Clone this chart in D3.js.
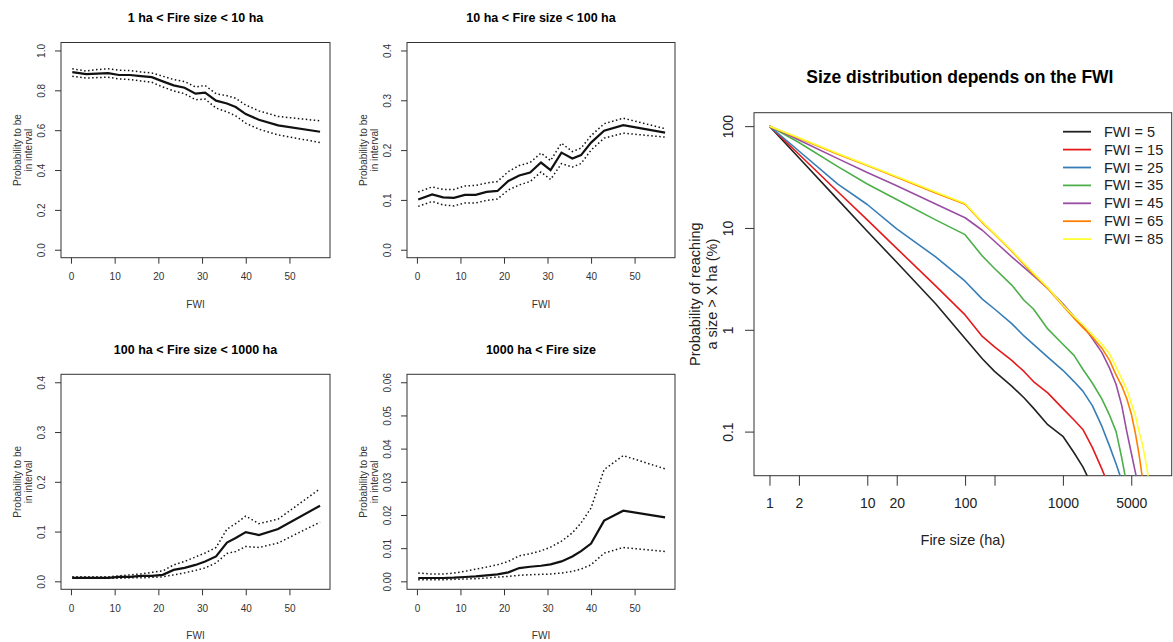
<!DOCTYPE html>
<html><head><meta charset="utf-8">
<script src="https://cdn.jsdelivr.net/npm/d3@7/dist/d3.min.js"></script>
<style>
body{margin:0;background:#fff}
svg{display:block}
text{font-family:"Liberation Sans",Arial,Helvetica,sans-serif}
</style>
</head><body>
<svg id="c" width="1173" height="642"></svg>
<script>
// ---------- DATA ----------
const fwi = [0.3, 3.5, 6, 8.5, 11, 13.5, 16, 18.5, 21, 23.5, 26, 28.5, 30.7, 33.2, 35.7, 37.7, 40, 43, 47.4, 57];
const fwiTicks = [0, 10, 20, 30, 40, 50];

const p1Mean  = [0.891,0.881,0.884,0.886,0.877,0.877,0.871,0.866,0.845,0.825,0.813,0.783,0.788,0.748,0.734,0.716,0.681,0.652,0.624,0.592];
const p1Upper = [0.908,0.897,0.904,0.908,0.901,0.899,0.892,0.887,0.871,0.854,0.844,0.817,0.824,0.783,0.773,0.760,0.726,0.697,0.669,0.647];
const p1Lower = [0.871,0.861,0.864,0.866,0.857,0.854,0.847,0.840,0.817,0.797,0.783,0.753,0.756,0.711,0.692,0.672,0.635,0.605,0.576,0.538];

const p2Mean  = [0.101,0.111,0.105,0.104,0.110,0.110,0.116,0.118,0.138,0.149,0.155,0.175,0.160,0.195,0.183,0.190,0.215,0.239,0.250,0.235];
const p2Upper = [0.116,0.126,0.121,0.121,0.128,0.129,0.134,0.137,0.157,0.169,0.175,0.194,0.179,0.214,0.197,0.204,0.229,0.253,0.264,0.243];
const p2Lower = [0.087,0.097,0.090,0.088,0.094,0.094,0.099,0.102,0.120,0.130,0.137,0.156,0.141,0.173,0.166,0.173,0.200,0.224,0.234,0.226];

const p3Mean  = [0.007,0.007,0.007,0.007,0.009,0.009,0.011,0.011,0.013,0.023,0.027,0.033,0.040,0.050,0.078,0.087,0.099,0.093,0.105,0.152];
const p3Upper = [0.009,0.009,0.009,0.009,0.011,0.013,0.015,0.018,0.021,0.033,0.040,0.049,0.057,0.068,0.105,0.116,0.131,0.116,0.125,0.186];
const p3Lower = [0.006,0.006,0.006,0.006,0.006,0.007,0.007,0.008,0.009,0.013,0.017,0.022,0.027,0.037,0.056,0.060,0.070,0.068,0.077,0.119];

const p4Mean  = [0.0010,0.0010,0.0010,0.0011,0.0013,0.0015,0.0018,0.0021,0.0027,0.0040,0.0044,0.0047,0.0051,0.0060,0.0075,0.0091,0.0114,0.0183,0.0213,0.0193];
const p4Upper = [0.0025,0.0022,0.0022,0.0025,0.0030,0.0037,0.0043,0.0050,0.0060,0.0077,0.0083,0.0092,0.0103,0.0121,0.0146,0.0176,0.0221,0.0337,0.0379,0.0339];
const p4Lower = [0.0005,0.0005,0.0005,0.0006,0.0007,0.0008,0.0010,0.0013,0.0015,0.0018,0.0020,0.0021,0.0022,0.0025,0.0030,0.0037,0.0050,0.0085,0.0102,0.0090];

const fireSizes = [1, 2, 5, 10, 20, 50, 100, 150, 200, 300, 400, 500, 700, 1000, 1300, 1600, 2000, 2500, 3000, 3500, 4000, 4500, 5000, 5500, 6000, 6500, 7000, 7500];
const exceed5  = [100, 49, 19, 9.3, 4.6, 1.8, 0.82, 0.52, 0.39, 0.28, 0.215, 0.17, 0.117, 0.09, 0.062, 0.045, 0.029, null, null, null, null, null, null, null, null, null, null, null];
const exceed15 = [100, 53, 22.7, 12, 6.3, 2.7, 1.4, 0.86, 0.68, 0.5, 0.39, 0.31, 0.24, 0.168, 0.13, 0.105, 0.07, 0.043, 0.028, null, null, null, null, null, null, null, null, null];
const exceed25 = [100, 57, 27, 17, 9.8, 5.2, 3.0, 2.0, 1.6, 1.15, 0.87, 0.72, 0.54, 0.40, 0.31, 0.25, 0.18, 0.113, 0.072, 0.048, 0.033, 0.022, null, null, null, null, null, null];
const exceed35 = [100, 69, 40, 27, 19, 12, 8.6, 5.3, 4.0, 2.75, 1.95, 1.6, 1.02, 0.72, 0.56, 0.41, 0.3, 0.21, 0.145, 0.1, 0.055, 0.03, null, null, null, null, null, null];
const exceed45 = [100, 73, 48, 35, 26, 17.2, 12.6, 9.5, 7.4, 5.2, 4.1, 3.4, 2.55, 1.8, 1.35, 1.1, 0.82, 0.6, 0.42, 0.29, 0.18, 0.1, 0.062, 0.04, 0.028, null, null, null];
const exceed65 = [100, 76, 53, 41, 31.5, 22, 17.1, 11.3, 8.7, 5.9, 4.4, 3.5, 2.55, 1.72, 1.3, 1.05, 0.85, 0.66, 0.5, 0.36, 0.28, 0.21, 0.15, 0.097, 0.06, 0.035, null, null];
const exceed85 = [100, 77, 54, 41.6, 32, 22.5, 17.4, 11.5, 8.8, 6.0, 4.5, 3.6, 2.6, 1.75, 1.35, 1.12, 0.9, 0.72, 0.58, 0.43, 0.33, 0.26, 0.19, 0.145, 0.1, 0.075, 0.052, 0.035];
const seriesLabels = ["FWI = 5", "FWI = 15", "FWI = 25", "FWI = 35", "FWI = 45", "FWI = 65", "FWI = 85"];
const seriesColors = ["#222222", "#E41A1C", "#377EB8", "#4DAF4A", "#984EA3", "#FF7F00", "#FFFF33"];
const sizeTicks = [1, 2, 10, 20, 100, 200, 1000, 5000];
const sizeTickLabels = ["1", "2", "10", "20", "100", "", "1000", "5000"];
const probTicks = [0.1, 1, 10, 100];
const probTickLabels = ["0.1", "1", "10", "100"];

// ---------- DRAW ----------
const svg = d3.select("#c");
const AX = "#333";
const ext = (a, b) => { const s = b - a; return [a - 0.04 * s, b + 0.04 * s]; };

function smallPanel(c) {
  const [x0, x1, y0, y1] = c.box;
  const x = d3.scaleLinear().domain(ext(0, 57)).range([x0, x1]);
  const y = d3.scaleLinear().domain(ext(0, c.ymax)).range([y1, y0]);
  const g = svg.append("g");
  // title
  g.append("text").attr("x", (x0 + x1) / 2).attr("y", c.titleY).attr("text-anchor", "middle")
    .attr("font-size", 12.5).attr("font-weight", "bold").attr("fill", "#000").text(c.title);
  // x axis
  const xa = g.append("g").attr("transform", `translate(0,${y1})`)
    .call(d3.axisBottom(x).tickValues(fwiTicks).tickSize(6).tickFormat(d3.format("d")));
  xa.select(".domain").remove();
  xa.selectAll("line").attr("stroke", AX);
  xa.selectAll("text").attr("y", 15.5).attr("dy", "0.71em").attr("font-size", 10).attr("fill", "#333").attr("font-family", null);
  // y axis
  const ya = g.append("g").attr("transform", `translate(${x0},0)`)
    .call(d3.axisLeft(y).tickValues(c.yticks).tickSize(6).tickFormat(d3.format(c.fmt)));
  ya.select(".domain").remove();
  ya.selectAll("line").attr("stroke", AX);
  ya.selectAll("text").attr("x", null).attr("dy", "0.35em").attr("text-anchor", "middle")
    .attr("transform", "translate(-19.5,0) rotate(-90)").attr("font-size", 10).attr("fill", "#333").attr("font-family", null);
  // box
  g.append("rect").attr("x", x0).attr("y", y0).attr("width", x1 - x0).attr("height", y1 - y0)
    .attr("fill", "none").attr("stroke", AX).attr("stroke-width", 1);
  // axis titles
  g.append("text").attr("x", (x0 + x1) / 2).attr("y", y1 + 46.5).attr("dy", "0.35em").attr("text-anchor", "middle")
    .attr("font-size", 10).attr("fill", "#333").text("FWI");
  const cy = (y0 + y1) / 2;
  g.append("text").attr("transform", `translate(${x0 - 43.5},${cy}) rotate(-90)`).attr("dy", "0.35em")
    .attr("text-anchor", "middle").attr("font-size", 10).attr("fill", "#333").text("Probability to be");
  g.append("text").attr("transform", `translate(${x0 - 33},${cy}) rotate(-90)`).attr("dy", "0.35em")
    .attr("text-anchor", "middle").attr("font-size", 10).attr("fill", "#333").text("in interval");
  // lines
  const line = d3.line().x((d, i) => x(fwi[i])).y(d => y(d));
  g.append("path").datum(c.upper).attr("d", line).attr("fill", "none").attr("stroke", "#111")
    .attr("stroke-width", 1.5).attr("stroke-dasharray", "1.5,2.5");
  g.append("path").datum(c.lower).attr("d", line).attr("fill", "none").attr("stroke", "#111")
    .attr("stroke-width", 1.5).attr("stroke-dasharray", "1.5,2.5");
  g.append("path").datum(c.mean).attr("d", line).attr("fill", "none").attr("stroke", "#111")
    .attr("stroke-width", 2.2);
}

smallPanel({box: [61, 330, 42.5, 257.7], ymax: 1, yticks: [0, 0.2, 0.4, 0.6, 0.8, 1.0], fmt: ".1f",
  title: "1 ha < Fire size < 10 ha", titleY: 21.5, mean: p1Mean, upper: p1Upper, lower: p1Lower});
smallPanel({box: [407, 675, 42.5, 257.7], ymax: 0.4, yticks: [0, 0.1, 0.2, 0.3, 0.4], fmt: ".1f",
  title: "10 ha < Fire size < 100 ha", titleY: 21.5, mean: p2Mean, upper: p2Upper, lower: p2Lower});
smallPanel({box: [61, 330, 374.3, 589.3], ymax: 0.4, yticks: [0, 0.1, 0.2, 0.3, 0.4], fmt: ".1f",
  title: "100 ha < Fire size < 1000 ha", titleY: 353.5, mean: p3Mean, upper: p3Upper, lower: p3Lower});
smallPanel({box: [407, 675, 374.3, 589.3], ymax: 0.06, yticks: [0, 0.01, 0.02, 0.03, 0.04, 0.05, 0.06], fmt: ".2f",
  title: "1000 ha < Fire size", titleY: 353.5, mean: p4Mean, upper: p4Upper, lower: p4Lower});

// ---------- BIG PANEL ----------
(function () {
  const X0 = 754, X1 = 1171.7, Y0 = 112.7, Y1 = 475.7;
  const lx = ext(Math.log10(1), Math.log10(9000));
  const ly = ext(Math.log10(0.05), Math.log10(100));
  const x = d3.scaleLog().domain([10 ** lx[0], 10 ** lx[1]]).range([X0, X1]);
  const y = d3.scaleLog().domain([10 ** ly[0], 10 ** ly[1]]).range([Y1, Y0]);
  const g = svg.append("g");
  g.append("text").attr("x", (X0 + X1) / 2 - 3).attr("y", 83).attr("text-anchor", "middle")
    .attr("font-size", 17.5).attr("font-weight", "bold").attr("fill", "#000").text("Size distribution depends on the FWI");

  const defs = svg.append("defs");
  defs.append("clipPath").attr("id", "bigclip").append("rect")
    .attr("x", X0).attr("y", Y0).attr("width", X1 - X0).attr("height", Y1 - Y0);

  const xa = g.append("g").attr("transform", `translate(0,${Y1})`)
    .call(d3.axisBottom(x).tickValues(sizeTicks).tickSize(10).tickFormat((d, i) => sizeTickLabels[i]));
  xa.select(".domain").remove();
  xa.selectAll("line").attr("stroke", AX);
  xa.selectAll("text").attr("y", 22.5).attr("dy", "0.71em").attr("font-size", 14).attr("fill", "#222").attr("font-family", null);

  const ya = g.append("g").attr("transform", `translate(${X0},0)`)
    .call(d3.axisLeft(y).tickValues(probTicks).tickSize(9).tickFormat((d, i) => probTickLabels[i]));
  ya.select(".domain").remove();
  ya.selectAll("line").attr("stroke", AX);
  ya.selectAll("text").attr("x", null).attr("dy", "0.35em").attr("text-anchor", "middle")
    .attr("transform", "translate(-26,0) rotate(-90)").attr("font-size", 14).attr("fill", "#222").attr("font-family", null);

  g.append("rect").attr("x", X0).attr("y", Y0).attr("width", X1 - X0).attr("height", Y1 - Y0)
    .attr("fill", "none").attr("stroke", AX).attr("stroke-width", 1);

  g.append("text").attr("x", (X0 + X1) / 2).attr("y", 540).attr("dy", "0.35em").attr("text-anchor", "middle")
    .attr("font-size", 14.5).attr("fill", "#222").text("Fire size (ha)");
  const cy = (Y0 + Y1) / 2;
  g.append("text").attr("transform", `translate(695,${cy}) rotate(-90)`).attr("dy", "0.35em")
    .attr("text-anchor", "middle").attr("font-size", 14.5).attr("fill", "#222").text("Probability of reaching");
  g.append("text").attr("transform", `translate(711.7,${cy}) rotate(-90)`).attr("dy", "0.35em")
    .attr("text-anchor", "middle").attr("font-size", 14.5).attr("fill", "#222").text("a size > X ha (%)");

  const allSeries = [exceed5, exceed15, exceed25, exceed35, exceed45, exceed65, exceed85];
  const line = d3.line().defined(d => d != null).x((d, i) => x(fireSizes[i])).y(d => y(d));
  const lg = g.append("g").attr("clip-path", "url(#bigclip)");
  allSeries.forEach((s, k) => {
    lg.append("path").datum(s).attr("d", line).attr("fill", "none")
      .attr("stroke", seriesColors[k]).attr("stroke-width", 1.6).attr("stroke-linejoin", "round");
  });

  // legend
  const leg = g.append("g");
  seriesLabels.forEach((lab, k) => {
    const yy = 131.7 + k * 17.9;
    leg.append("line").attr("x1", 1063).attr("x2", 1091).attr("y1", yy).attr("y2", yy)
      .attr("stroke", seriesColors[k]).attr("stroke-width", 1.8);
    leg.append("text").attr("x", 1104).attr("y", yy).attr("dy", "0.35em")
      .attr("font-size", 14.5).attr("fill", "#222").text(lab);
  });
})();
</script>
</body></html>
